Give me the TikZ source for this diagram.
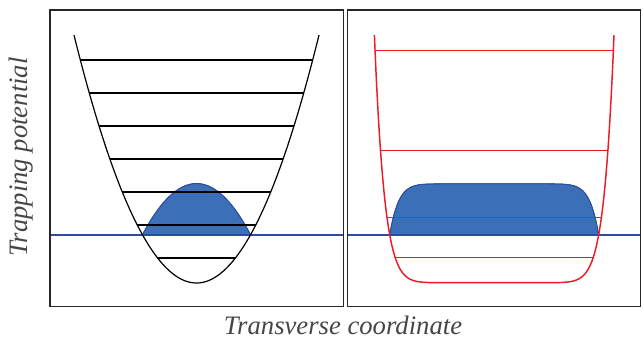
\documentclass[tikz,border=0pt]{standalone}
\usepackage{fontspec}
\setmainfont{Liberation Serif}
\usetikzlibrary{calc}
\pgfdeclarelayer{background}
\pgfdeclarelayer{foreground}
\pgfsetlayers{background,main,foreground}
\definecolor{cloudblue}{RGB}{59,112,184}
\definecolor{cloudedge}{RGB}{46,76,156}
\definecolor{mublue}{RGB}{43,76,156}
\definecolor{boxred}{RGB}{237,28,36}
\definecolor{labelgray}{RGB}{70,70,70}

\begin{document}
\begin{tikzpicture}[x=0.75pt,y=-0.75pt,
  frame/.style={line width=1.1pt,draw=black!85},
  level/.style={line width=0.9pt},
  redlevel/.style={line width=0.95pt,draw=boxred},
  mu/.style={line width=1.2pt,draw=mublue},
  cloud/.style={fill=cloudblue,draw=cloudedge,line width=0.6pt},
  axislabel/.style={text=labelgray,font=\fontsize{20}{22}\selectfont\itshape}]
\useasboundingbox (0,0) rectangle (643,340);

\coordinate (LeftMin)  at (50,10);
\coordinate (LeftMax)  at (343.3,306.5);
\coordinate (RightMin) at (347.3,10);
\coordinate (RightMax) at (640.5,306.5);

% harmonic trap: y = 283 - 0.01653 (x-196.5)^2
% box-like trap: y = 282.7 - 247.7 (|x-494.2|/119.8)^12
\begin{pgfonlayer}{background}
  \fill[cloud] plot[domain=142.45:250.55,samples=80]
     (\x,{234.7-1.06*(48.3-0.01653*(\x-196.5)^2)}) -- cycle;
  \fill[cloud] plot[domain=389.7:598.7,samples=240]
     (\x,{234.7-1.06*(48-247.7*pow(abs(\x-494.2)/119.8,12))}) -- cycle;
  \draw[cloud,fill=none] plot[domain=142.45:250.55,samples=80]
     (\x,{234.7-1.06*(48.3-0.01653*(\x-196.5)^2)});
  \draw[cloud,fill=none] plot[domain=389.7:598.7,samples=240]
     (\x,{234.7-1.06*(48-247.7*pow(abs(\x-494.2)/119.8,12))});
\end{pgfonlayer}

% chemical potential
\draw[mu] (LeftMin |- 0,234.7) -- (LeftMax |- 0,234.7);
\draw[mu] (RightMin |- 0,234.7) -- (RightMax |- 0,234.7);

% left panel
\foreach \y in {60,93,126,159,192,225,258}{
  \pgfmathsetmacro{\hw}{sqrt((283-\y)/0.01653)}
  \draw[level] ({196.5-\hw},\y) -- ({196.5+\hw},\y);
}
\draw[level] plot[domain=74:319,samples=120] (\x,{283-0.01653*(\x-196.5)^2});

% right panel
\foreach \y in {50.7,150.7,217.7,257.3}{
  \pgfmathsetmacro{\hw}{119.8*pow((282.7-\y)/247.7,1/12)}
  \draw[redlevel] ({494.2-\hw},\y) -- ({494.2+\hw},\y);
}
\draw[redlevel,line width=1.1pt] plot[domain=374.4:614,samples=300]
   (\x,{282.7-247.7*pow(abs(\x-494.2)/119.8,12)});

\begin{pgfonlayer}{foreground}
  \draw[frame] (LeftMin) rectangle (LeftMax);
  \draw[frame] (RightMin) rectangle (RightMax);
\end{pgfonlayer}

\node[axislabel,rotate=90] (ylab) at (21,157) {Trapping potential};
\node[axislabel] (xlab) at (343,325) {Transverse coordinate};
\end{tikzpicture}
\end{document}
